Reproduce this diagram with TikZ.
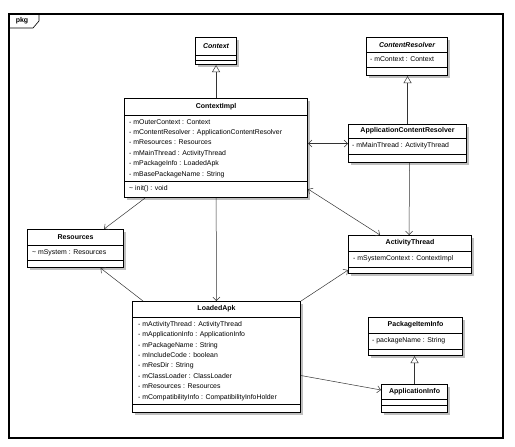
\documentclass[tikz,border=0pt]{standalone}
\usepackage{fontspec}
\setmainfont{Liberation Sans}
\usetikzlibrary{arrows.meta,calc,shadows}

\begin{document}
\begin{tikzpicture}[x=1pt,y=-1pt,
  classbox/.style={draw,line width=1.1pt,fill=white,anchor=north west,inner sep=0pt,
    drop shadow={shadow xshift=2pt,shadow yshift=-2pt,fill=black!25,opacity=1}},
  sep/.style={line width=0.5pt},
  hdr/.style={inner sep=0pt,font=\fontsize{7}{8}\selectfont\bfseries},
  attr/.style={anchor=north west,inner sep=0pt,align=left,font=\fontsize{6.9}{10.4}\selectfont},
  link/.style={line width=0.5pt,black!80},
  assoc/.style={link,-{Straight Barb[length=3.5pt,width=7pt]}},
  biassoc/.style={link,{Straight Barb[length=3.5pt,width=7pt]}-{Straight Barb[length=3.5pt,width=7pt]}},
  gen/.style={link,-{Triangle[open,length=7pt,width=8pt,fill=white]}}]
  \useasboundingbox (0,0) rectangle (515,447);

  % package frame
  \draw[line width=1.1pt] (9,14) rectangle (503,438);
  \draw[line width=0.6pt] (9,28) -- (33,28) -- (39,21) -- (39,14);
  \node[hdr] (pkg) at (22,21) {pkg};

  % Context
  \node[classbox,minimum width=41pt,minimum height=27pt] (ctx) at (195,37) {};
  \draw[sep] ($(ctx.north west)+(0,18)$) -- ($(ctx.north east)+(0,18)$);
  \draw[sep] ($(ctx.north west)+(0,23)$) -- ($(ctx.north east)+(0,23)$);
  \node[hdr] at ($(ctx.north)+(0,9)$) {\itshape Context};

  % ContextImpl
  \node[classbox,minimum width=183pt,minimum height=99pt] (impl) at (124,98) {};
  \draw[sep] ($(impl.north west)+(0,17)$) -- ($(impl.north east)+(0,17)$);
  \draw[sep] ($(impl.north west)+(0,83)$) -- ($(impl.north east)+(0,83)$);
  \node[hdr] at ($(impl.north)+(0,8.5)$) {ContextImpl};
  \node[attr] at ($(impl.north west)+(5,21)$) {- mOuterContext : Context\\
    - mContentResolver : ApplicationContentResolver\\
    - mResources : Resources\\
    - mMainThread : ActivityThread\\
    - mPackageInfo : LoadedApk\\
    - mBasePackageName : String};
  \node[attr] at ($(impl.north west)+(5,87)$) {\textasciitilde{} init() : void};

  % ContentResolver
  \node[classbox,minimum width=81pt,minimum height=38pt] (cres) at (366,37) {};
  \draw[sep] ($(cres.north west)+(0,15)$) -- ($(cres.north east)+(0,15)$);
  \draw[sep] ($(cres.north west)+(0,30)$) -- ($(cres.north east)+(0,30)$);
  \node[hdr] at ($(cres.north)+(0,7.5)$) {\itshape ContentResolver};
  \node[attr] at ($(cres.north west)+(4,19)$) {- mContext : Context};

  % ApplicationContentResolver
  \node[classbox,minimum width=118pt,minimum height=38pt] (acr) at (348,124) {};
  \draw[sep] ($(acr.north west)+(0,14)$) -- ($(acr.north east)+(0,14)$);
  \draw[sep] ($(acr.north west)+(0,30)$) -- ($(acr.north east)+(0,30)$);
  \node[hdr] at ($(acr.north)+(0,7)$) {ApplicationContentResolver};
  \node[attr] at ($(acr.north west)+(4,18)$) {- mMainThread : ActivityThread};

  % Resources
  \node[classbox,minimum width=96pt,minimum height=38pt] (res) at (27,229) {};
  \draw[sep] ($(res.north west)+(0,16)$) -- ($(res.north east)+(0,16)$);
  \draw[sep] ($(res.north west)+(0,31)$) -- ($(res.north east)+(0,31)$);
  \node[hdr] at ($(res.north)+(0,8)$) {Resources};
  \node[attr] at ($(res.north west)+(5,20)$) {\textasciitilde{} mSystem : Resources};

  % ActivityThread
  \node[classbox,minimum width=123pt,minimum height=38pt] (athread) at (348,235) {};
  \draw[sep] ($(athread.north west)+(0,16)$) -- ($(athread.north east)+(0,16)$);
  \draw[sep] ($(athread.north west)+(0,32)$) -- ($(athread.north east)+(0,32)$);
  \node[hdr] at ($(athread.north)+(0,8)$) {ActivityThread};
  \node[attr] at ($(athread.north west)+(5,20)$) {- mSystemContext : ContextImpl};

  % LoadedApk
  \node[classbox,minimum width=168pt,minimum height=111pt] (apk) at (132,301) {};
  \draw[sep] ($(apk.north west)+(0,16)$) -- ($(apk.north east)+(0,16)$);
  \draw[sep] ($(apk.north west)+(0,103)$) -- ($(apk.north east)+(0,103)$);
  \node[hdr] at ($(apk.north)+(0,8)$) {LoadedApk};
  \node[attr] at ($(apk.north west)+(6,20)$) {- mActivityThread : ActivityThread\\
    - mApplicationInfo : ApplicationInfo\\
    - mPackageName : String\\
    - mIncludeCode : boolean\\
    - mResDir : String\\
    - mClassLoader : ClassLoader\\
    - mResources : Resources\\
    - mCompatibilityInfo : CompatibilityInfoHolder};

  % PackageItemInfo
  \node[classbox,minimum width=94pt,minimum height=38pt] (pii) at (368,317) {};
  \draw[sep] ($(pii.north west)+(0,16)$) -- ($(pii.north east)+(0,16)$);
  \draw[sep] ($(pii.north west)+(0,32)$) -- ($(pii.north east)+(0,32)$);
  \node[hdr] at ($(pii.north)+(0,8)$) {PackageItemInfo};
  \node[attr] at ($(pii.north west)+(4,20)$) {- packageName : String};

  % ApplicationInfo
  \node[classbox,minimum width=66pt,minimum height=28pt] (ainfo) at (381,384) {};
  \draw[sep] ($(ainfo.north west)+(0,15)$) -- ($(ainfo.north east)+(0,15)$);
  \draw[sep] ($(ainfo.north west)+(0,21)$) -- ($(ainfo.north east)+(0,21)$);
  \node[hdr] at ($(ainfo.north)+(0,7.5)$) {ApplicationInfo};

  % generalizations
  \draw[gen] (impl) -- (ctx);
  \draw[gen] (acr.north) -- (acr.north |- cres.south);
  \draw[gen] (ainfo.north) -- (ainfo.north |- pii.south);

  % associations
  \draw[biassoc] (acr.west) -- (acr.west -| impl.east);
  \draw[biassoc] ($(impl.south east)+(0,-9)$) -- ($(athread.north west)+(32,0)$);
  \draw[assoc] ($(acr.south)+(2,0)$) -- ($(athread.north)+(-1,0)$);
  \draw[assoc] ($(impl.south west)+(21,0)$) -- ($(res.north east)+(-20,0)$);
  \draw[assoc] (impl) -- (apk);
  \draw[assoc] ($(apk.north west)+(11,0)$) -- ($(res.south)+(25,0)$);
  \draw[assoc] (apk.north east) -- ($(athread.south west)+(0,-4)$);
  \draw[assoc] ($(apk.east)+(0,18.5)$) -- ($(ainfo.north west)+(0,6)$);
\end{tikzpicture}
\end{document}
